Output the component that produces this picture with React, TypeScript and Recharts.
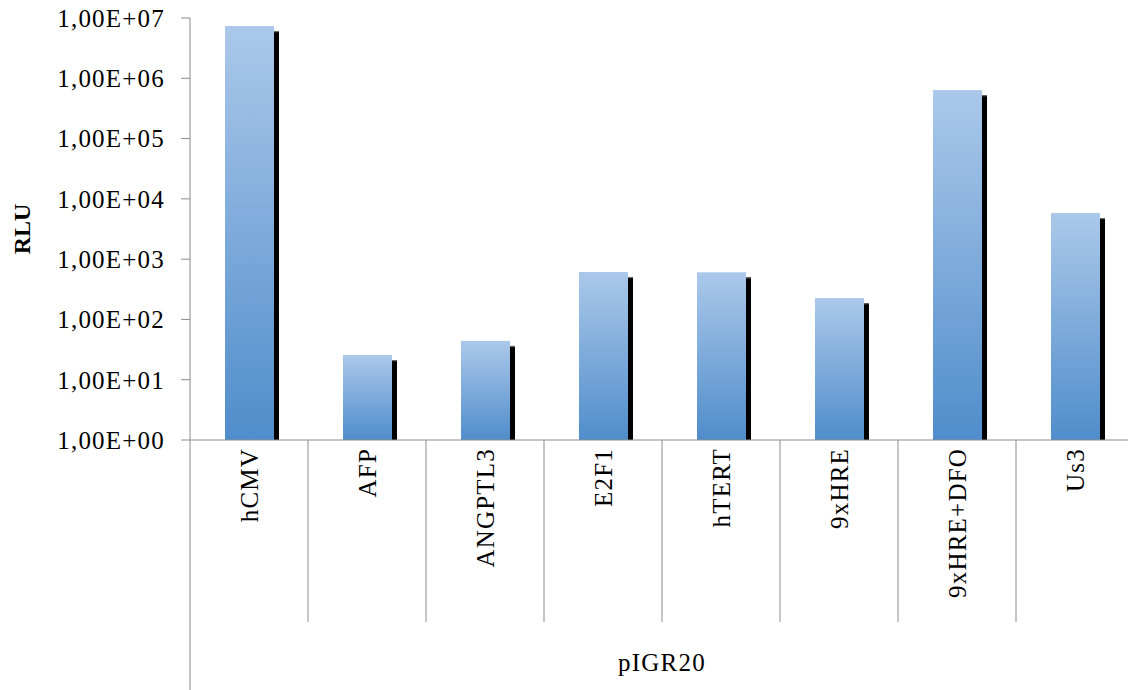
import * as React from "react"
import { BarChart, Bar, XAxis, YAxis, Label } from "recharts"

const categories = ["hCMV", "AFP", "ANGPTL3", "E2F1", "hTERT", "9xHRE", "9xHRE+DFO", "Us3"]
const rluValues = [7360000, 25.7, 44, 612, 605, 226, 638000, 5820]
const yTicks = [1, 10, 100, 1000, 10000, 100000, 1000000, 10000000]
const groupLabel = "pIGR20"

const data = categories.map((name, i) => ({ name, rlu: rluValues[i] }))

const FONT = "'Liberation Serif', 'Times New Roman', serif"
const AXIS_GREY = "#8c8c8c"
const TEXT_SIZE = 25
const SPACING = 1.2

const formatSci = (v: number) => {
    const exp = Math.round(Math.log10(v))
    return `1,00E+${String(exp).padStart(2, "0")}`
}

const ShadowBar = (props: any) => {
    const { x, y, width, height } = props
    if (!height || height <= 0) return null
    return (
        <g>
            <rect x={x + 5} y={y + 5} width={width} height={Math.max(height - 5, 0)} fill="#000" />
            <rect x={x + 5} y={y + 5} width={width} height={1.2} fill="#666" />
            <rect x={x} y={y} width={width} height={height} fill="url(#barGrad)" />
        </g>
    )
}

const CategoryTick = (props: any) => {
    const { x, y, payload, index } = props
    const half = payload && payload.offset ? payload.offset : 59
    const last = index === categories.length - 1
    return (
        <g>
            <line x1={x - half} y1={y} x2={x - half} y2={y + (index === 0 ? 250 : 182)} stroke={AXIS_GREY} strokeWidth={1} />
            {last && <line x1={x + half} y1={y} x2={x + half} y2={y + 182} stroke={AXIS_GREY} strokeWidth={1} />}
            <text
                x={x}
                y={y + 8}
                transform={`rotate(-90, ${x}, ${y + 8})`}
                textAnchor="end"
                dominantBaseline="central"
                fontFamily={FONT}
                fontSize={TEXT_SIZE}
                letterSpacing={SPACING}
                fill="#000"
            >
                {payload.value}
            </text>
        </g>
    )
}

export default function App() {
    return (
        <div style={{ position: "absolute", left: 0, top: 0, width: 1128, height: 690, overflow: "hidden", background: "#fff" }}>
            <BarChart
                width={1140}
                height={690}
                data={data}
                margin={{ top: 18, right: 6, bottom: 0, left: 0 }}
                barSize={49}
            >
                <defs>
                    <linearGradient id="barGrad" x1="0" y1="0" x2="0" y2="1">
                        <stop offset="0%" stopColor="#abc8ea" />
                        <stop offset="100%" stopColor="#508dcb" />
                    </linearGradient>
                </defs>
                <XAxis
                    dataKey="name"
                    interval={0}
                    height={250}
                    tickSize={0}
                    tickMargin={0}
                    tickLine={false}
                    axisLine={{ stroke: AXIS_GREY, strokeWidth: 1 }}
                    tick={<CategoryTick />}
                >
                    <Label
                        content={({ viewBox }: any) => (
                            <text
                                x={viewBox.x + viewBox.width / 2}
                                y={viewBox.y + 231}
                                textAnchor="middle"
                                fontFamily={FONT}
                                fontSize={TEXT_SIZE}
                                letterSpacing={SPACING}
                                fill="#000"
                            >
                                {groupLabel}
                            </text>
                        )}
                    />
                </XAxis>
                <YAxis
                    scale="log"
                    domain={[1, 10000000]}
                    ticks={yTicks}
                    allowDataOverflow
                    width={190}
                    tickSize={9}
                    tickMargin={16}
                    tickFormatter={formatSci}
                    tick={{ fontFamily: FONT, fontSize: TEXT_SIZE, fill: "#000", letterSpacing: SPACING }}
                    tickLine={{ stroke: AXIS_GREY }}
                    axisLine={{ stroke: AXIS_GREY, strokeWidth: 1 }}
                >
                    <Label
                        content={({ viewBox }: any) => {
                            const cx = 22
                            const cy = viewBox.y + viewBox.height / 2
                            return (
                                <text
                                    x={cx}
                                    y={cy}
                                    transform={`rotate(-90, ${cx}, ${cy})`}
                                    textAnchor="middle"
                                    dominantBaseline="central"
                                    fontFamily={FONT}
                                    fontSize={24}
                                    fontWeight="bold"
                                    fill="#000"
                                >
                                    RLU
                                </text>
                            )
                        }}
                    />
                </YAxis>
                <Bar dataKey="rlu" shape={<ShadowBar />} isAnimationActive={false} />
            </BarChart>
        </div>
    )
}
